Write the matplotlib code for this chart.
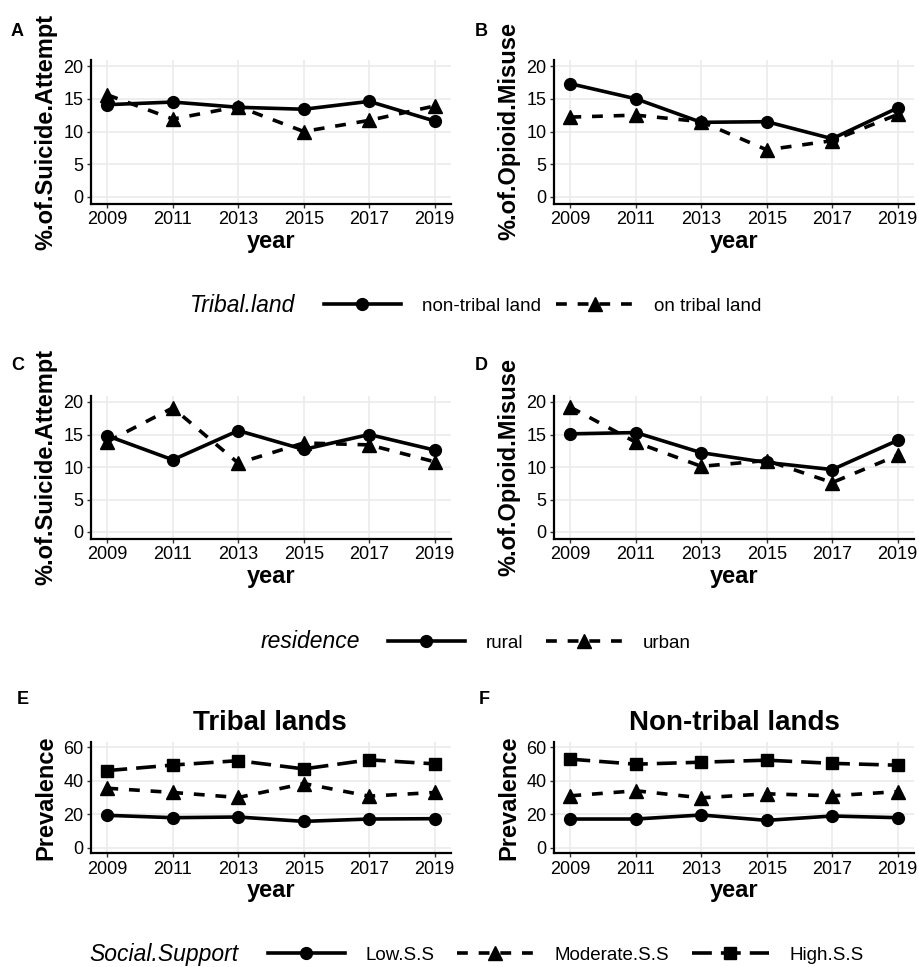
import matplotlib
matplotlib.use('Agg')
import matplotlib.pyplot as plt
from matplotlib.lines import Line2D

plt.rcParams['font.family'] = ['Liberation Sans', 'DejaVu Sans']

years = [2009, 2011, 2013, 2015, 2017, 2019]

# panels A / B : tribal land
suicide_nontribal = [14.1, 14.5, 13.7, 13.4, 14.6, 11.6]
suicide_tribal = [15.6, 11.9, 13.8, 10.0, 11.7, 13.9]
opioid_nontribal = [17.3, 15.0, 11.4, 11.5, 8.9, 13.6]
opioid_tribal = [12.2, 12.5, 11.5, 7.2, 8.6, 12.6]

# panels C / D : residence
suicide_rural = [14.8, 11.1, 15.6, 12.7, 15.0, 12.6]
suicide_urban = [13.9, 19.1, 10.6, 13.7, 13.4, 10.8]
opioid_rural = [15.1, 15.3, 12.2, 10.7, 9.6, 14.1]
opioid_urban = [19.2, 13.8, 10.1, 11.0, 7.6, 11.8]

# panels E / F : social support
tribal_low = [19.4, 18.0, 18.4, 15.8, 17.2, 17.4]
tribal_mod = [35.5, 33.0, 30.0, 38.3, 30.8, 33.0]
tribal_high = [46.0, 49.3, 51.9, 47.0, 52.4, 50.0]
nontribal_low = [17.2, 17.2, 19.6, 16.4, 19.0, 18.0]
nontribal_mod = [31.0, 34.0, 29.8, 32.2, 31.0, 33.5]
nontribal_high = [52.8, 49.8, 51.0, 52.2, 50.3, 49.2]

W, H = 919, 967
fig = plt.figure(figsize=(W / 100, H / 100), dpi=100)

LW = 2.6
styles = {
    'solid': dict(color='black', lw=LW, ls='-', marker='o', ms=8.5),
    'dashed': dict(color='black', lw=LW, dashes=(3, 3), marker='^', ms=9.5),
    'long': dict(color='black', lw=LW, dashes=(5.5, 2.5), marker='s', ms=8.5),
}


def panel(l, r, t, b, ylim, yticks):
    ax = fig.add_axes([l / W, 1 - b / H, (r - l) / W, (b - t) / H])
    ax.set_xlim(2008.5, 2019.5)
    ax.set_ylim(*ylim)
    ax.set_xticks(years)
    ax.set_yticks(yticks)
    ax.grid(color='#EBEBEB', lw=1.2)
    ax.set_axisbelow(True)
    for s in ['top', 'right']:
        ax.spines[s].set_visible(False)
    for s in ['left', 'bottom']:
        ax.spines[s].set_linewidth(1.6)
    ax.tick_params(direction='out', length=3, width=1, color='#333333',
                   labelsize=13, labelcolor='black', pad=2.5)
    return ax


xA = (91, 451)
xB = (554, 914)
rows = [(59.5, 203.5), (395.5, 538.5), (742, 853)]

panels = [
    (xA, rows[0], (-1, 21), [0, 5, 10, 15, 20],
     [(suicide_nontribal, 'solid'), (suicide_tribal, 'dashed')], '%.of.Suicide.Attempt', 'A'),
    (xB, rows[0], (-1, 21), [0, 5, 10, 15, 20],
     [(opioid_nontribal, 'solid'), (opioid_tribal, 'dashed')], '%.of.Opioid.Misuse', 'B'),
    (xA, rows[1], (-1, 21), [0, 5, 10, 15, 20],
     [(suicide_rural, 'solid'), (suicide_urban, 'dashed')], '%.of.Suicide.Attempt', 'C'),
    (xB, rows[1], (-1, 21), [0, 5, 10, 15, 20],
     [(opioid_rural, 'solid'), (opioid_urban, 'dashed')], '%.of.Opioid.Misuse', 'D'),
    (xA, rows[2], (-3, 63), [0, 20, 40, 60],
     [(tribal_low, 'solid'), (tribal_mod, 'dashed'), (tribal_high, 'long')], 'Prevalence', 'E'),
    (xB, rows[2], (-3, 63), [0, 20, 40, 60],
     [(nontribal_low, 'solid'), (nontribal_mod, 'dashed'), (nontribal_high, 'long')], 'Prevalence', 'F'),
]

letter_pos = {'A': (17, 31), 'B': (481, 31), 'C': (18, 365), 'D': (481, 365),
              'E': (23, 700), 'F': (484, 700)}

for (xl, xr), (yt, yb), ylim, yt_ticks, series, ylab, letter in panels:
    ax = panel(xl, xr, yt, yb, ylim, yt_ticks)
    for vals, st in series:
        ax.plot(years, vals, **styles[st])
    ylx = 46 if xl < 300 else 509
    fig.text(ylx / W, 1 - (yt + yb) / 2 / H, ylab, rotation=90, ha='center', va='center',
             fontsize=17, fontweight='bold')
    fig.text((xl + xr) / 2 / W, 1 - (yb + 44.5) / H, 'year', ha='center', va='baseline',
             fontsize=17, fontweight='bold')
    lx, ly = letter_pos[letter]
    fig.text(lx / W, 1 - ly / H, letter, ha='center', va='center', fontsize=13, fontweight='bold')

fig.text(270 / W, 1 - 730 / H, 'Tribal lands', ha='center', va='baseline', fontsize=20, fontweight='bold')
fig.text(734 / W, 1 - 730 / H, 'Non-tribal lands', ha='center', va='baseline', fontsize=20, fontweight='bold')


def legend(title, title_end, key_start, yc, labels, keys, colsp):
    fig.text(title_end / W, 1 - (yc + 6.5) / H, title, ha='right', va='baseline',
             fontsize=16.5, style='italic')
    handles = [Line2D([], [], **styles[k]) for k in keys]
    fig.legend(handles, labels, loc='center left', bbox_to_anchor=(key_start / W, 1 - (yc + 1) / H),
               ncol=len(labels), frameon=False, fontsize=13.5, handlelength=4.1,
               handletextpad=1.1, columnspacing=colsp, borderpad=0, borderaxespad=0,
               numpoints=1)


legend('Tribal.land', 295, 324, 305, ['non-tribal land', 'on tribal land'], ['solid', 'dashed'], 0.85)
legend('residence', 360, 388, 642, ['rural', 'urban'], ['solid', 'dashed'], 1.2)
legend('Social.Support', 238, 268, 954, ['Low.S.S', 'Moderate.S.S', 'High.S.S'],
       ['solid', 'dashed', 'long'], 1.2)

fig.savefig('out.png', dpi=100, facecolor='white')
